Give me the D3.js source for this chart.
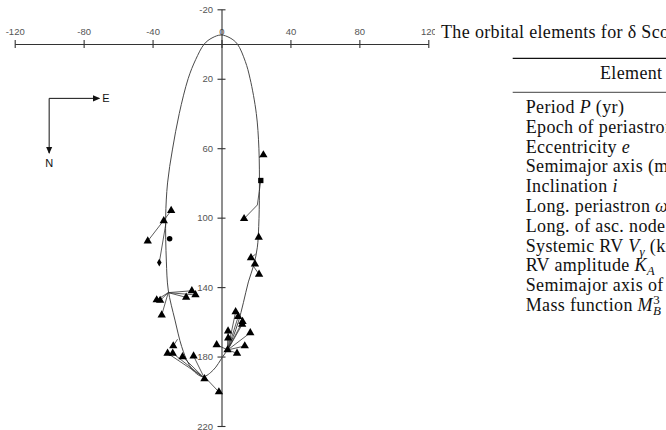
<!DOCTYPE html>
<html>
<head>
<meta charset="utf-8">
<script src="https://cdn.jsdelivr.net/npm/d3@7"></script>
<style>
  body { margin: 0; background: #fff; }
  svg { display: block; }
</style>
</head>
<body>
<script>
// tick values on the two axes
const xTicks = [-120, -80, -40, 0, 40, 80, 120];
const yTicks = [-20, 20, 60, 100, 140, 180, 220];

const orbitX = [-0.3, 5, 9.2, 13.8, 16.6, 20.2, 21.7, 22, 21.6, 20.8, 18.8, 15.6, 12.7, 9.8, 6.8, 3.9, 0.7, -4.8, -10.6, -15.5, -19.3, -23.1, -27, -30.9, -32, -32.4, -31.3, -28.5, -24.5, -19.3, -15, -10, -5.5];
const orbitY = [-5.2, -3.5, 0, 10, 20, 40, 60, 85, 105, 117, 127, 137, 149, 160, 168.5, 175.3, 180.1, 187.8, 191.6, 189, 183.7, 174.3, 159, 141.7, 125, 100, 80, 61, 40, 19.8, 9, 0, -3.5];

// observed positions (mas) and marker kind
const obsX = [24.3, 22.8, 13.1, 21.6, 17.1, 19.4, 21.8,
  -29.2, -33.5, -42.8, -30.1, -36.1,
  -17.2, -15.1, -20.5, -37.6, -35.6, -34.7,
  -28.0, -31.3, -28.3, -22.6, -16.2, -9.9, -1.5,
  8.2, 9.7, 12.2, 12.0, 3.8, 16.7, 3.9, 13.5, -2.8, 3.5, 9.0];
const obsY = [63.9, 78.6, 100.6, 111.3, 123.1, 126.7, 132.6,
  95.9, 101.8, 113.5, 112.1, 125.9,
  142.1, 144.5, 145.9, 147.4, 147.7, 156.1,
  173.9, 178.1, 178.1, 180.1, 179.7, 192.8, 200.4,
  154.2, 157.0, 159.8, 161.5, 165.3, 166.3, 169.3, 173.9, 173.2, 176.2, 178.1];
const obsType = ['tri', 'sq', 'tri', 'tri', 'tri', 'tri', 'tri',
  'tri', 'tri', 'tri', 'dot', 'dia',
  'tri', 'tri', 'tri', 'tri', 'tri', 'tri',
  'tri', 'tri', 'tri', 'tri', 'tri', 'tri', 'tri',
  'tri', 'tri', 'tri', 'tri', 'tri', 'tri', 'tri', 'tri', 'tri', 'tri', 'tri'];

// predicted position on the orbit for each observation (null = no residual line)
const fitX = [21.9, 20.8, 20.8, 21.4, 19.8, 18.9, 17.8,
  -32.3, -32.3, -32.3, null, -32.3,
  -30.9, -30.9, -30.9, -30.9, -30.9, -30.9,
  -25.5, -11.5, -11.5, -11, -10.3, null, -9.9,
  3.6, 3.6, 3.6, 3.6, 3.6, 3.6, 3.6, 3.6, 3.6, null, 3.6];
const fitY = [65.3, 92.7, 92.7, 108.8, 121.0, 124.5, 127,
  100, 100, 100, null, 103.5,
  143.2, 143.2, 143.2, 143.2, 143.2, 143.2,
  170, 191.2, 191.2, 191.4, 191.6, null, 191.6,
  176.2, 176.2, 176.2, 176.2, 176.2, 176.2, 176.2, 176.2, 176.2, null, 176.2];

// stray speck on the page
const speckX = [147.7];
const speckY = [87.5];

// compass (data units)
const compassX = [-100, -71];
const compassY = [31.3, 62.8];

// table beside the plot
const tableTitle = 'The orbital elements for δ Scorpii';
const tableHeader = 'Element';
const tableRows = [
  [['Period ', 'n'], ['P', 'i'], [' (yr)', 'n']],
  [['Epoch of periastron ', 'n'], ['T', 'i'], [' (yr)', 'n']],
  [['Eccentricity ', 'n'], ['e', 'i']],
  [['Semimajor axis (mas)', 'n']],
  [['Inclination ', 'n'], ['i', 'i']],
  [['Long. periastron ', 'n'], ['ω', 'i']],
  [['Long. of asc. node ', 'n'], ['Ω', 'n']],
  [['Systemic RV ', 'n'], ['V', 'i'], ['γ', 'sub'], [' (km/s)', 'n']],
  [['RV amplitude ', 'n'], ['K', 'i'], ['A', 'sub']],
  [['Semimajor axis of primary', 'n']],
  [['Mass function ', 'n'], ['M', 'i'], ['B', 'sub'], ['3', 'sup']]
];

const width = 666;
const height = 430;

const svg = d3.select('body')
  .append('svg')
  .attr('width', width)
  .attr('height', height)
  .style('background', '#fff');

const xScale = d3.scaleLinear().domain([-120, 120]).range([14.7, 428.3]);
const yScale = d3.scaleLinear().domain([-20, 220]).range([9.3, 426]);

// arrow head for the compass
svg.append('defs').append('marker')
  .attr('id', 'head')
  .attr('markerUnits', 'userSpaceOnUse')
  .attr('viewBox', '0 -4 8 8')
  .attr('refX', 7).attr('refY', 0)
  .attr('markerWidth', 7).attr('markerHeight', 7)
  .attr('orient', 'auto')
  .append('path')
  .attr('d', 'M0,-3.5L8,0L0,3.5Z')
  .attr('fill', '#111');

// x axis along y = 0, labels above
const xAxis = d3.axisTop(xScale)
  .tickValues(xTicks)
  .tickSize(4)
  .tickPadding(5.5)
  .tickSizeOuter(0)
  .tickFormat(d => String(d));

const gx = svg.append('g')
  .attr('transform', `translate(0,${yScale(0)})`)
  .call(xAxis);
gx.selectAll('.tick line').attr('y1', 4);

// y axis along x = 0, labels left
const yAxis = d3.axisLeft(yScale)
  .tickValues(yTicks)
  .tickSize(4)
  .tickPadding(4.5)
  .tickSizeOuter(0)
  .tickFormat(d => String(d));

const gy = svg.append('g')
  .attr('transform', `translate(${xScale(0)},0)`)
  .call(yAxis);
gy.selectAll('.tick line').attr('x1', 4);

[gx, gy].forEach(g => {
  g.select('.domain').attr('stroke', '#333').attr('stroke-width', 1.1);
  g.selectAll('.tick line').attr('stroke', '#333').attr('stroke-width', 1.1);
  g.selectAll('.tick text')
    .attr('fill', '#555')
    .style('font-family', 'Liberation Sans, Arial, sans-serif')
    .style('font-size', '9.5px');
});

// fitted orbit
const orbit = d3.line()
  .x(i => xScale(orbitX[i]))
  .y(i => yScale(orbitY[i]))
  .curve(d3.curveCatmullRomClosed.alpha(0.5));

svg.append('path')
  .attr('d', orbit(d3.range(orbitX.length)))
  .attr('fill', 'none')
  .attr('stroke', '#4a4a4a')
  .attr('stroke-width', 1);

// residual lines from each measurement to its place on the orbit
const idx = d3.range(obsX.length);
svg.append('g')
  .selectAll('line')
  .data(idx.filter(i => fitX[i] !== null))
  .join('line')
  .attr('x1', i => xScale(obsX[i]))
  .attr('y1', i => yScale(obsY[i]))
  .attr('x2', i => xScale(fitX[i]))
  .attr('y2', i => yScale(fitY[i]))
  .attr('stroke', '#333')
  .attr('stroke-width', 0.8);

// measurement markers
const shapes = {
  tri: [d3.symbolTriangle, 30],
  sq: [d3.symbolSquare, 28],
  dot: [d3.symbolCircle, 24],
  dia: [d3.symbolDiamond, 18]
};
svg.append('g')
  .selectAll('path')
  .data(idx)
  .join('path')
  .attr('transform', i => `translate(${xScale(obsX[i])},${yScale(obsY[i])})`)
  .attr('d', i => d3.symbol().type(shapes[obsType[i]][0]).size(shapes[obsType[i]][1])())
  .attr('fill', '#000');

// compass
svg.append('line')
  .attr('x1', xScale(compassX[0])).attr('y1', yScale(compassY[0]))
  .attr('x2', xScale(compassX[1])).attr('y2', yScale(compassY[0]))
  .attr('stroke', '#111').attr('stroke-width', 1)
  .attr('marker-end', 'url(#head)');
svg.append('line')
  .attr('x1', xScale(compassX[0])).attr('y1', yScale(compassY[0]))
  .attr('x2', xScale(compassX[0])).attr('y2', yScale(compassY[1]))
  .attr('stroke', '#111').attr('stroke-width', 1)
  .attr('marker-end', 'url(#head)');
svg.append('text')
  .attr('x', xScale(compassX[1]) + 3)
  .attr('y', yScale(compassY[0]) + 4)
  .style('font-family', 'Liberation Sans, Arial, sans-serif')
  .style('font-size', '11px')
  .attr('fill', '#111')
  .text('E');
svg.append('text')
  .attr('x', xScale(compassX[0]))
  .attr('y', yScale(compassY[1]) + 14)
  .attr('text-anchor', 'middle')
  .style('font-family', 'Liberation Sans, Arial, sans-serif')
  .style('font-size', '11px')
  .attr('fill', '#111')
  .text('N');

// tiny speck
svg.append('g')
  .selectAll('circle')
  .data(speckX)
  .join('circle')
  .attr('cx', (d, i) => xScale(d))
  .attr('cy', (d, i) => yScale(speckY[i]))
  .attr('r', 0.9)
  .attr('fill', '#666');

// table panel
const table = svg.append('g')
  .style('font-family', 'Liberation Serif, Times New Roman, serif')
  .style('font-size', '18px')
  .style('letter-spacing', '0.35px')
  .attr('fill', '#111');

table.append('rect')
  .attr('x', 435).attr('y', 0)
  .attr('width', width - 435).attr('height', height)
  .attr('fill', '#fff');

table.append('text')
  .attr('x', 441).attr('y', 37.7)
  .text(tableTitle);

table.append('line')
  .attr('x1', 512.7).attr('x2', width)
  .attr('y1', 58.3).attr('y2', 58.3)
  .attr('stroke', '#111').attr('stroke-width', 1.2);

table.append('text')
  .attr('x', 600).attr('y', 79)
  .text(tableHeader);

table.append('line')
  .attr('x1', 512.7).attr('x2', width)
  .attr('y1', 92.3).attr('y2', 92.3)
  .attr('stroke', '#111').attr('stroke-width', 0.8);

tableRows.forEach((row, r) => {
  const t = table.append('text')
    .attr('x', 525.7)
    .attr('y', 113 + r * 19.8);
  let shift = 0;
  row.forEach(([s, kind]) => {
    const target = kind === 'sub' ? 4 : kind === 'sup' ? -7 : 0;
    const span = t.append('tspan')
      .attr('dy', target - shift)
      .style('font-style', kind === 'n' || kind === 'sup' ? 'normal' : 'italic')
      .text(s);
    if (kind === 'sub' || kind === 'sup') span.style('font-size', '13px');
    if (kind === 'sup') span.attr('dx', -8);
    shift = target;
  });
});
</script>
</body>
</html>
